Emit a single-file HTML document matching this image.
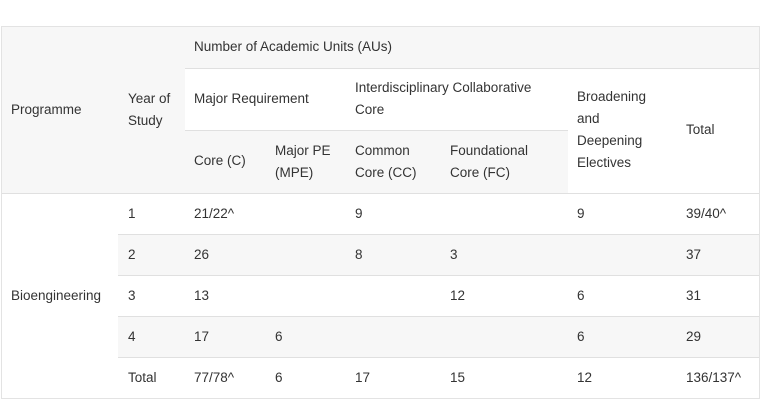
<!DOCTYPE html>
<html><head><meta charset="utf-8"><style>
body{margin:0;width:784px;height:406px;background:#fff;font-family:"Liberation Sans",sans-serif;font-size:13.5px;color:#333;position:relative;overflow:hidden}
.b{position:absolute;box-sizing:border-box}
.t{position:absolute;line-height:22px;white-space:nowrap}
.h{position:absolute;height:1px;background:#e0e0e0}
</style></head><body>
<div class="b" style="left:1px;top:26px;width:759px;height:373px;border:1px solid #e3e3e3"></div>
<div class="b" style="left:2px;top:27px;width:757px;height:166px;background:#f7f7f7"></div>
<div class="b" style="left:185px;top:68px;width:574px;height:62px;background:#fff"></div>
<div class="b" style="left:568px;top:68px;width:191px;height:125px;background:#fff"></div>
<div class="b" style="left:118px;top:234px;width:641px;height:41px;background:#f7f7f7"></div>
<div class="b" style="left:118px;top:316px;width:641px;height:41px;background:#f7f7f7"></div>
<div class="h" style="left:185px;top:68px;width:574px"></div>
<div class="h" style="left:185px;top:130px;width:383px"></div>
<div class="h" style="left:2px;top:193px;width:757px"></div>
<div class="h" style="left:118px;top:234px;width:641px"></div>
<div class="h" style="left:118px;top:275px;width:641px"></div>
<div class="h" style="left:118px;top:316px;width:641px"></div>
<div class="h" style="left:118px;top:357px;width:641px"></div>

<div class="t" style="left:11px;top:99px">Programme</div>
<div class="t" style="left:128px;top:88px">Year of<br>Study</div>
<div class="t" style="left:194px;top:36px">Number of Academic Units (AUs)</div>
<div class="t" style="left:194px;top:88px">Major Requirement</div>
<div class="t" style="left:355px;top:77px">Interdisciplinary Collaborative<br>Core</div>
<div class="t" style="left:577px;top:86px">Broadening<br>and<br>Deepening<br>Electives</div>
<div class="t" style="left:686px;top:119px">Total</div>
<div class="t" style="left:194px;top:150px">Core (C)</div>
<div class="t" style="left:275px;top:140px">Major PE<br>(MPE)</div>
<div class="t" style="left:355px;top:140px">Common<br>Core (CC)</div>
<div class="t" style="left:450px;top:140px">Foundational<br>Core (FC)</div>

<div class="t" style="left:11px;top:285px">Bioengineering</div>

<div class="t" style="left:128px;top:203px">1</div>
<div class="t" style="left:194px;top:203px">21/22^</div>
<div class="t" style="left:355px;top:203px">9</div>
<div class="t" style="left:577px;top:203px">9</div>
<div class="t" style="left:686px;top:203px">39/40^</div>

<div class="t" style="left:128px;top:244px">2</div>
<div class="t" style="left:194px;top:244px">26</div>
<div class="t" style="left:355px;top:244px">8</div>
<div class="t" style="left:450px;top:244px">3</div>
<div class="t" style="left:686px;top:244px">37</div>

<div class="t" style="left:128px;top:285px">3</div>
<div class="t" style="left:194px;top:285px">13</div>
<div class="t" style="left:450px;top:285px">12</div>
<div class="t" style="left:577px;top:285px">6</div>
<div class="t" style="left:686px;top:285px">31</div>

<div class="t" style="left:128px;top:326px">4</div>
<div class="t" style="left:194px;top:326px">17</div>
<div class="t" style="left:275px;top:326px">6</div>
<div class="t" style="left:577px;top:326px">6</div>
<div class="t" style="left:686px;top:326px">29</div>

<div class="t" style="left:128px;top:367px">Total</div>
<div class="t" style="left:194px;top:367px">77/78^</div>
<div class="t" style="left:275px;top:367px">6</div>
<div class="t" style="left:355px;top:367px">17</div>
<div class="t" style="left:450px;top:367px">15</div>
<div class="t" style="left:577px;top:367px">12</div>
<div class="t" style="left:686px;top:367px">136/137^</div>
</body></html>
